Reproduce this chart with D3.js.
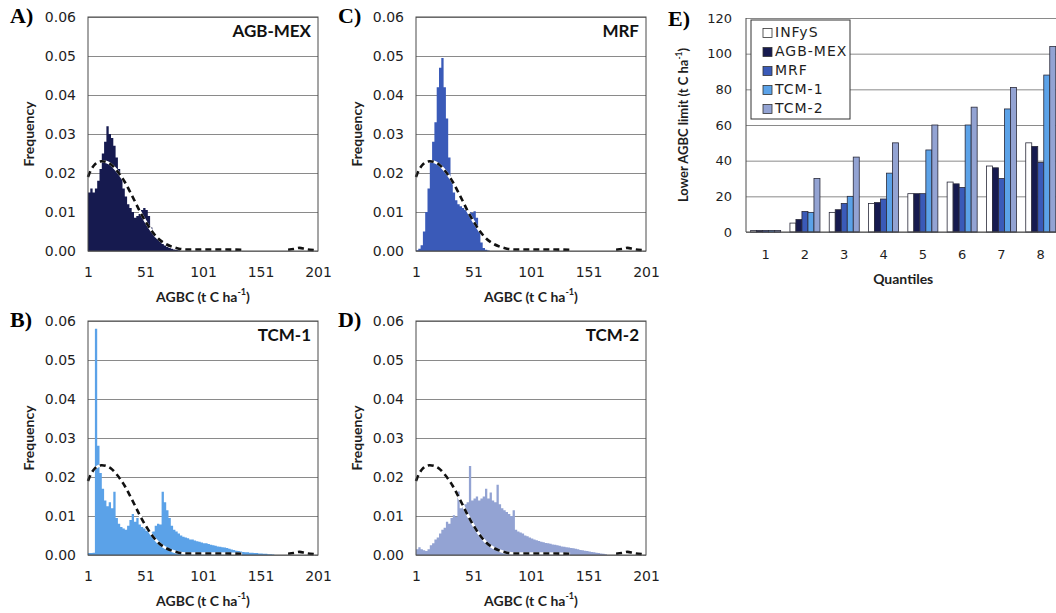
<!DOCTYPE html>
<html>
<head>
<meta charset="utf-8">
<script src="https://cdn.jsdelivr.net/npm/d3@7"></script>
<style>
  body { margin: 0; background: #fff; }
  svg { display: block; }
  .tick text { font-family: "DejaVu Sans", sans-serif; fill: #1e1e1e; }
</style>
</head>
<body>
<script>
// HISTOGRAMS: frequency per 2 t C/ha bin, first bin starts at 1
const binWidth = 2;
const binStarts = d3.range(1, 201, binWidth);
const xTickValues = [1, 51, 101, 151, 201];
const freqTicks = [0, 0.01, 0.02, 0.03, 0.04, 0.05, 0.06];

const agbMexFreq = [0.015, 0.016, 0.015, 0.016, 0.018, 0.021, 0.025, 0.028, 0.032, 0.030,
  0.029, 0.027, 0.024, 0.021, 0.019, 0.016, 0.014, 0.012, 0.011, 0.010,
  0.0085, 0.009, 0.0095, 0.0105, 0.011, 0.0105, 0.009, 0.006, 0.0045, 0.0035,
  0.003, 0.0024, 0.0018, 0.0014, 0.001, 0.0008, 0.0006, 0.0004, 0.0003, 0.0002];

const mrfFreq = [0.0002, 0.0006, 0.0015, 0.005, 0.010, 0.016, 0.023, 0.028, 0.033, 0.042,
  0.047, 0.0495, 0.042, 0.034, 0.024, 0.018, 0.015, 0.013, 0.012, 0.0115,
  0.011, 0.0105, 0.0105, 0.010, 0.0098, 0.0102, 0.0085, 0.005, 0.0022, 0.0008,
  0.0003, 0.0001];

const tcm1Freq = [0.0005, 0.0005, 0.0006, 0.058, 0.028, 0.021, 0.017, 0.014, 0.0125, 0.0135,
  0.012, 0.0162, 0.0095, 0.008, 0.0072, 0.0068, 0.0065, 0.0075, 0.009, 0.0105,
  0.0085, 0.0095, 0.0078, 0.0072, 0.0068, 0.0062, 0.0065, 0.0058, 0.006, 0.0075,
  0.008, 0.0078, 0.0162, 0.0135, 0.0115, 0.0095, 0.0075, 0.0065, 0.006, 0.0055,
  0.005, 0.0047, 0.0045, 0.0043, 0.004, 0.004, 0.0037, 0.0035, 0.0034, 0.0032,
  0.003, 0.003, 0.0028, 0.0026, 0.0025, 0.0024, 0.0022, 0.0021, 0.002, 0.0019,
  0.0018, 0.0016, 0.0014, 0.0013, 0.0011, 0.001, 0.0009, 0.0008, 0.0007, 0.0007,
  0.0006, 0.0006, 0.0005, 0.0005, 0.0004, 0.0004, 0.0003, 0.0003, 0.0002, 0.0002,
  0.0001];

const tcm2Freq = [0.0015, 0.002, 0.0015, 0.0012, 0.001, 0.0015, 0.0025, 0.003, 0.004, 0.0045,
  0.0055, 0.0065, 0.007, 0.0085, 0.008, 0.0095, 0.0102, 0.0098, 0.0163, 0.012,
  0.0125, 0.013, 0.0135, 0.0228, 0.014, 0.0145, 0.015, 0.014, 0.0145, 0.015,
  0.017, 0.0145, 0.016, 0.014, 0.0135, 0.018, 0.013, 0.012, 0.0115, 0.011,
  0.0105, 0.010, 0.0115, 0.0065, 0.006, 0.0058, 0.0055, 0.005, 0.0048, 0.0045,
  0.0042, 0.004, 0.0038, 0.0036, 0.0034, 0.0033, 0.0031, 0.003, 0.0029, 0.0027,
  0.0026, 0.0025, 0.0024, 0.0022, 0.0021, 0.002, 0.0019, 0.0018, 0.0017, 0.0016,
  0.0015, 0.0013, 0.0012, 0.0011, 0.001, 0.0009, 0.0008, 0.0007, 0.0006, 0.0005,
  0.0004, 0.0003, 0.0002];

// reference distribution (dashed curve), null = gap
const refCurveX = [1, 4, 7, 10, 13, 17, 21, 25, 29, 33, 37, 42, 46, 51, 56, 62, 68, 74, 80, 86,
  100, 115, 135, 155, 175, 180, 185, 190, 198];
const refCurveY = [0.019, 0.021, 0.0222, 0.0228, 0.023, 0.0228, 0.0222, 0.021, 0.0195, 0.0177,
  0.0155, 0.0126, 0.0102, 0.0076, 0.0053, 0.0032, 0.0019, 0.0011, 0.0006, 0.0004,
  0.0004, 0.0004, 0.0003, null, 0.0003, 0.0005, 0.0008, 0.0005, 0.0002];

// PANEL E: lower AGBC limit per quantile
const quantiles = ["1", "2", "3", "4", "5", "6", "7", "8"];
const seriesNames = ["INFyS", "AGB-MEX", "MRF", "TCM-1", "TCM-2"];
const infysLimit = [0.8, 5, 11, 16, 21.5, 28, 37, 50];
const agbMexLimit = [0.8, 7, 12.5, 16.5, 21.5, 27, 36, 48];
const mrfLimit = [0.8, 11.5, 16, 18.5, 21.5, 25, 30, 39];
const tcm1Limit = [0.8, 11, 20, 33, 46, 60, 69, 88];
const tcm2Limit = [0.8, 30, 42, 50, 60, 70, 81, 104];
const limitTicks = [0, 20, 40, 60, 80, 100, 120];

const colors = {
  "INFyS": "#ffffff",
  "AGB-MEX": "#161a4f",
  "MRF": "#3a5ab8",
  "TCM-1": "#5ba2e8",
  "TCM-2": "#93a3d3"
};

const svg = d3.select("body").append("svg")
  .attr("width", 1056)
  .attr("height", 613);

function addTitle(sel, text) {
  sel.append("tspan").text(text);
  sel.append("tspan").attr("baseline-shift", "super").attr("font-size", "0.65em").text("-1");
  sel.append("tspan").text(")");
}

function histPanel(opts) {
  const w = 230, h = 234;
  const g = svg.append("g").attr("transform", `translate(${opts.left},${opts.top})`);
  const x = d3.scaleLinear().domain([1, 201]).range([0, w]);
  const y = d3.scaleLinear().domain([0, 0.06]).range([h, 0]);

  //gridlines + y labels
  g.append("g")
    .call(d3.axisLeft(y).tickValues(freqTicks).tickSize(-w).tickPadding(12).tickFormat(d3.format(".2f")))
    .call(a => a.select(".domain").remove())
    .call(a => a.selectAll("line").attr("stroke", "#8a8a8a"))
    .call(a => a.selectAll("text").attr("font-size", 14));

  //x labels
  g.append("g")
    .attr("transform", `translate(0,${h})`)
    .call(d3.axisBottom(x).tickValues(xTickValues).tickSize(0).tickPadding(16))
    .call(a => a.select(".domain").remove())
    .call(a => a.selectAll("text").attr("font-size", 14));

  //histogram as stepped area
  let pts = opts.values.map((v, i) => [binStarts[i], v]);
  pts.push([binStarts[opts.values.length - 1] + binWidth, 0]);
  const area = d3.area()
    .x(d => x(d[0]))
    .y0(h)
    .y1(d => y(d[1]))
    .curve(d3.curveStepAfter);
  g.append("path").datum(pts).attr("d", area).attr("fill", opts.color);

  //reference curve
  const curvePts = refCurveX.map((d, i) => [d, refCurveY[i]]);
  const line = d3.line()
    .defined(d => d[1] !== null)
    .x(d => x(d[0]))
    .y(d => y(d[1]))
    .curve(d3.curveMonotoneX);
  g.append("path").datum(curvePts).attr("d", line)
    .attr("fill", "none").attr("stroke", "#fff").attr("stroke-width", 2.6);
  g.append("path").datum(curvePts).attr("d", line)
    .attr("fill", "none").attr("stroke", "#111").attr("stroke-width", 2.6)
    .attr("stroke-dasharray", "6,4");

  //frame
  g.append("rect").attr("width", w).attr("height", h)
    .attr("fill", "none").attr("stroke", "#4a4a4a").attr("stroke-width", 1);

  //titles
  g.append("text")
    .attr("x", w / 2).attr("y", h + 47)
    .attr("text-anchor", "middle").attr("dominant-baseline", "middle")
    .attr("font-family", "Lato, sans-serif").attr("font-weight", "bold").attr("font-size", 14)
    .attr("fill", "#1e1e1e")
    .call(t => addTitle(t, "AGBC (t C ha"));

  g.append("text")
    .attr("transform", `translate(-58,${h / 2}) rotate(-90)`)
    .attr("text-anchor", "middle").attr("dominant-baseline", "middle")
    .attr("font-family", "Lato, sans-serif").attr("font-weight", "bold").attr("font-size", 14)
    .attr("fill", "#1e1e1e")
    .text("Frequency");

  g.append("text")
    .attr("x", -78).attr("y", 1)
    .attr("dominant-baseline", "middle")
    .attr("font-family", "Liberation Serif, serif").attr("font-weight", "bold").attr("font-size", 22)
    .text(opts.letter);

  g.append("text")
    .attr("x", 223).attr("y", 16)
    .attr("text-anchor", "end").attr("dominant-baseline", "middle")
    .attr("font-family", "Lato, sans-serif").attr("font-weight", "bold").attr("font-size", 17)
    .attr("fill", "#111")
    .text(opts.name);
}

histPanel({ left: 88, top: 17, values: agbMexFreq, color: colors["AGB-MEX"], name: "AGB-MEX", letter: "A)" });
histPanel({ left: 416, top: 17, values: mrfFreq, color: colors["MRF"], name: "MRF", letter: "C)" });
histPanel({ left: 88, top: 321, values: tcm1Freq, color: colors["TCM-1"], name: "TCM-1", letter: "B)" });
histPanel({ left: 416, top: 321, values: tcm2Freq, color: colors["TCM-2"], name: "TCM-2", letter: "D)" });

// PANEL E
const eLeft = 746, eTop = 18, eBottom = 232, eStep = 39.3;
const seriesValues = [infysLimit, agbMexLimit, mrfLimit, tcm1Limit, tcm2Limit];

const xq = d3.scaleBand().domain(quantiles)
  .range([eLeft, eLeft + quantiles.length * eStep])
  .paddingInner(0.236).paddingOuter(0.118);
const xs = d3.scaleBand().domain(seriesNames).range([0, xq.bandwidth()]);
const ye = d3.scaleLinear().domain([0, 120]).range([eBottom, eTop]);

const eg = svg.append("g");

eg.append("g")
  .attr("transform", `translate(${eLeft},0)`)
  .call(d3.axisLeft(ye).tickValues(limitTicks).tickSize(-(1056 - eLeft)).tickPadding(14))
  .call(a => a.select(".domain").remove())
  .call(a => a.selectAll("line").attr("stroke", "#8a8a8a"))
  .call(a => a.selectAll("text").attr("font-size", 13));

eg.append("g")
  .attr("transform", `translate(0,${eBottom})`)
  .call(d3.axisBottom(xq).tickSize(0).tickPadding(18))
  .call(a => a.select(".domain").remove())
  .call(a => a.selectAll("text").attr("font-size", 13));

seriesNames.forEach((s, si) => {
  eg.append("g").selectAll("rect")
    .data(seriesValues[si])
    .join("rect")
    .attr("x", (d, i) => xq(quantiles[i]) + xs(s))
    .attr("width", xs.bandwidth())
    .attr("y", d => ye(d))
    .attr("height", d => ye(0) - ye(d))
    .attr("fill", colors[s])
    .attr("stroke", "#2a2a3a")
    .attr("stroke-width", 0.8);
});

eg.append("line").attr("x1", eLeft).attr("x2", eLeft).attr("y1", eTop).attr("y2", eBottom)
  .attr("stroke", "#4a4a4a");
eg.append("line").attr("x1", eLeft).attr("x2", 1056).attr("y1", eBottom).attr("y2", eBottom)
  .attr("stroke", "#4a4a4a");

//legend
const legend = eg.append("g").attr("transform", "translate(751,20)");
legend.append("rect").attr("width", 99).attr("height", 99)
  .attr("fill", "#fff").attr("stroke", "#333");
seriesNames.forEach((s, i) => {
  const ly = 13 + i * 19;
  legend.append("rect")
    .attr("x", 12).attr("y", ly - 4.5).attr("width", 9).attr("height", 9)
    .attr("fill", colors[s]).attr("stroke", "#333").attr("stroke-width", 0.8);
  legend.append("text")
    .attr("x", 24).attr("y", ly)
    .attr("dominant-baseline", "middle")
    .attr("font-family", "DejaVu Sans, sans-serif").attr("font-size", 14)
    .attr("letter-spacing", 1)
    .attr("fill", "#1e1e1e")
    .text(s);
});

eg.append("text")
  .attr("x", (eLeft + eLeft + quantiles.length * eStep) / 2).attr("y", 280)
  .attr("text-anchor", "middle").attr("dominant-baseline", "middle")
  .attr("font-family", "Lato, sans-serif").attr("font-weight", "bold").attr("font-size", 14)
  .attr("fill", "#1e1e1e")
  .text("Quantiles");

eg.append("text")
  .attr("transform", `translate(685,${(eTop + eBottom) / 2}) rotate(-90)`)
  .attr("text-anchor", "middle").attr("dominant-baseline", "middle")
  .attr("font-family", "Lato, sans-serif").attr("font-weight", "bold").attr("font-size", 13)
  .attr("fill", "#1e1e1e")
  .call(t => addTitle(t, "Lower AGBC limit (t C ha"));

eg.append("text")
  .attr("x", 668).attr("y", 21)
  .attr("dominant-baseline", "middle")
  .attr("font-family", "Liberation Serif, serif").attr("font-weight", "bold").attr("font-size", 22)
  .text("E)");
</script>
</body>
</html>
